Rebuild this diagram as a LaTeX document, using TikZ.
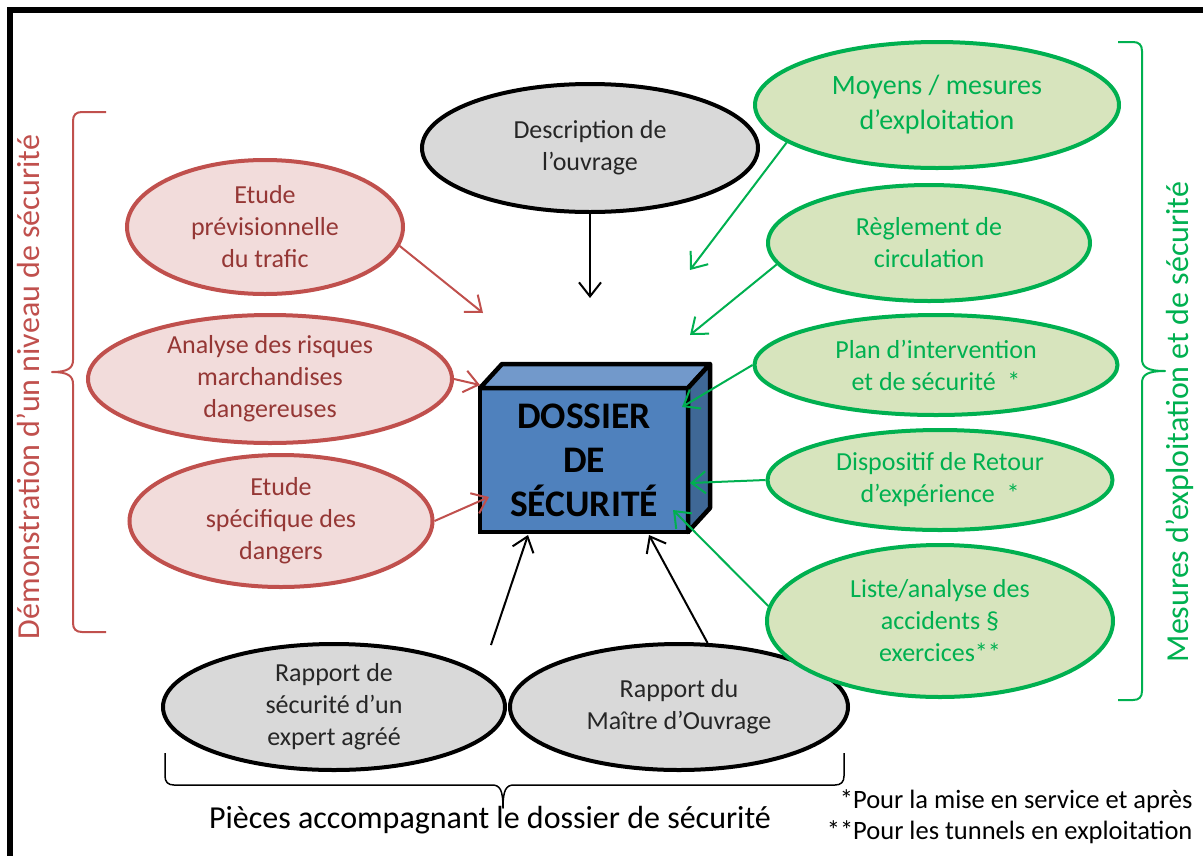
\documentclass[tikz,border=0pt]{standalone}
\usepackage{fontspec}
\setmainfont{Carlito}
\usepackage{tikz}
\usetikzlibrary{shapes.geometric, arrows.meta, calc, positioning}
\definecolor{brickred}{HTML}{C0504D}
\definecolor{brickfill}{HTML}{F2DCDB}
\definecolor{bricktext}{HTML}{953735}
\definecolor{leafgreen}{HTML}{00B050}
\definecolor{leaffill}{HTML}{D7E4BD}
\definecolor{greyfill}{HTML}{D9D9D9}
\definecolor{boxfront}{HTML}{4F81BD}
\definecolor{boxtop}{HTML}{7299CB}
\definecolor{boxside}{HTML}{3F6896}
\tikzset{
  bubble/.style={ellipse, line width=4pt, align=center, inner sep=0pt, font=\fontsize{26}{32}\selectfont},
  redbubble/.style={bubble, draw=brickred, fill=brickfill, text=bricktext},
  greenbubble/.style={bubble, draw=leafgreen, fill=leaffill, text=leafgreen},
  greybubble/.style={bubble, draw=black, fill=greyfill, text=black!85},
  feed/.style={line width=2pt, -{Straight Barb[length=14pt,width=22pt]}},
  bracket/.style={line width=2pt, line join=round},
  sidelabel/.style={rotate=90, font=\fontsize{32}{38}\selectfont},
}

\begin{document}
\begin{tikzpicture}[x=1pt, y=-1pt]
		\useasboundingbox (0,0) rectangle (1203,855);
		\draw[line width=6pt] (10,870) -- (10,10) -- (1220,10);

		\node[redbubble, minimum width=276pt, minimum height=134pt] (trafic) at (265,227) {Etude\\prévisionnelle\\du trafic};
		\node[redbubble, minimum width=364pt, minimum height=128pt] (risques) at (270,379) {Analyse des risques\\marchandises\\dangereuses};
		\node[redbubble, minimum width=303pt, minimum height=132pt] (dangers) at (281,521) {Etude\\spécifique des\\dangers};
		\node[greybubble, minimum width=336pt, minimum height=128pt] (ouvrage) at (590,148) {Description de\\l’ouvrage};
		\node[greybubble, minimum width=342pt, minimum height=126pt] (expert) at (334,707) {Rapport de\\sécurité d’un\\expert agréé};
		\node[greybubble, minimum width=338pt, minimum height=126pt] (maitre) at (679,707) {Rapport du\\Maître d’Ouvrage};
		\node[greenbubble, minimum width=364pt, minimum height=126pt, font=\fontsize{28}{35}\selectfont] (moyens) at (937,105) {Moyens / mesures\\d’exploitation};
		\node[greenbubble, minimum width=322pt, minimum height=116pt] (reglement) at (929,243) {Règlement de\\circulation};
		\node[greenbubble, minimum width=363pt, minimum height=100pt] (plan) at (936,365) {Plan d’intervention\\et de sécurité~ *};
		\node[greenbubble, minimum width=345pt, minimum height=100pt] (retex) at (940,480) {Dispositif de Retour\\d’expérience~ *};
		\node[greenbubble, minimum width=346pt, minimum height=152pt] (accidents) at (940,621) {Liste/analyse des\\accidents §\\exercices**};

		\node[draw, line width=4.5pt, fill=boxfront, outer sep=0pt, inner sep=0pt, minimum width=208pt, minimum height=144pt, align=center, font=\fontsize{37.5}{44}\selectfont\bfseries] (dossier) at (584,460) {DOSSIER\\DE\\SÉCURITÉ};
		\draw[line width=4.5pt, line join=round, fill=boxtop] (dossier.north west) -- ++(22,-24) -- ++(208,0) -- (dossier.north east) -- cycle;
		\draw[line width=4.5pt, line join=round, fill=boxside] (dossier.north east) -- ++(22,-24) -- ++(0,144) -- (dossier.south east) -- cycle;

		\coordinate (inTrafic) at (483,313);
		\coordinate (inRisques) at (480,385);
		\coordinate (inDangers) at (489,497);
		\coordinate (inOuvrage) at (590,298);
		\coordinate (fromExpert) at (491,645);
		\coordinate (inExpert) at (528,535);
		\coordinate (inMaitre) at (649,535);
		\coordinate (inMoyens) at (690,270);
		\coordinate (inReglement) at (690,335);
		\coordinate (inPlan) at (682,407);
		\coordinate (inRetex) at (690,483);
		\coordinate (inAccidents) at (673,510);

		\draw[feed, brickred] (trafic.-8) -- (inTrafic);
		\draw[feed, brickred] (risques.east) -- (inRisques);
		\draw[feed, brickred] (dangers.east) -- (inDangers);
		\draw[feed] (ouvrage.south) -- (inOuvrage);
		\draw[feed] (fromExpert) -- (inExpert);
		\draw[feed] (maitre.66) -- (inMaitre);
		\draw[feed, leafgreen] (moyens.194) -- (inMoyens);
		\draw[feed, leafgreen] (reglement.188) -- (inReglement);
		\draw[feed, leafgreen] (plan.west) -- (inPlan);
		\draw[feed, leafgreen] (retex.west) -- (inRetex);
		\draw[feed, leafgreen] (accidents.175) -- (inAccidents);

		\draw[bracket, brickred] (106,112) -- (82,112) .. controls (76,112) and (73,115) .. (73,121) -- (73,360) .. controls (73,368) and (68,372) .. (52,372) .. controls (68,372) and (73,376) .. (73,384) -- (73,623) .. controls (73,629) and (76,632) .. (82,632) -- (106,632);
		\node[sidelabel, text=brickred] (demonstration) at (28,387) {Démonstration d’un niveau de sécurité};

		\draw[bracket, leafgreen] (1118,42) -- (1133,42) .. controls (1139,42) and (1142,45) .. (1142,51) -- (1142,359) .. controls (1142,367) and (1147,371) .. (1165,371) .. controls (1147,371) and (1142,375) .. (1142,383) -- (1142,691) .. controls (1142,697) and (1139,700) .. (1133,700) -- (1118,700);
		\node[sidelabel, text=leafgreen] (mesures) at (1180,422) {Mesures d’exploitation et de sécurité};

		\draw[line width=1.5pt, line join=round] (165,753) -- (165,776) .. controls (165,782) and (168,785) .. (174,785) -- (492,785) .. controls (500,785) and (503,790) .. (503,808) .. controls (503,790) and (506,785) .. (514,785) -- (835,785) .. controls (841,785) and (844,782) .. (844,776) -- (844,753);
		\node[font=\fontsize{32}{38}\selectfont] (pieces) at (490,820) {Pièces accompagnant le dossier de sécurité};
		\node[anchor=east, align=right, font=\fontsize{26.5}{31}\selectfont] (notes) at (1196,817) {*Pour la mise en service et après\\**Pour les tunnels en exploitation};
\end{tikzpicture}
\end{document}
